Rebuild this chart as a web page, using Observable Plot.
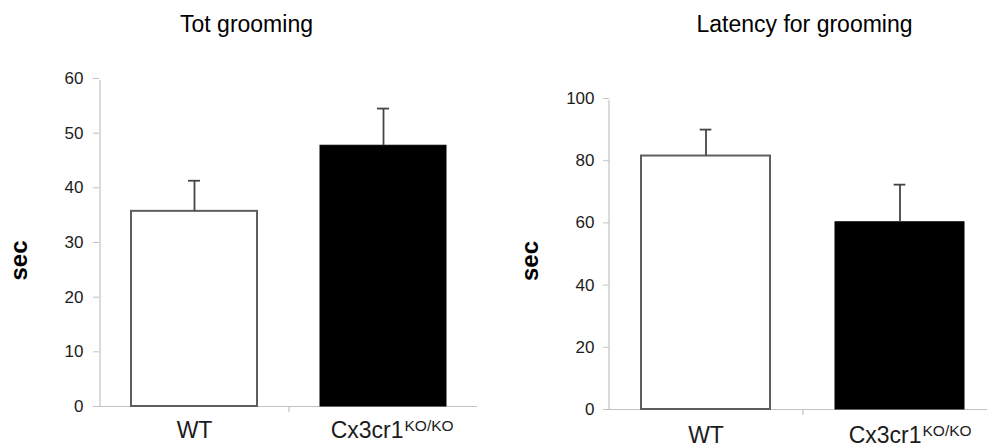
<!DOCTYPE html>
<html>
<head>
<meta charset="utf-8">
<script src="https://cdn.jsdelivr.net/npm/d3@7"></script>
<script src="https://cdn.jsdelivr.net/npm/@observablehq/plot@0.6"></script>
<style>
  html, body { margin: 0; padding: 0; background: #fff; }
  #row { display: flex; width: 987px; height: 446px; overflow: hidden; }
</style>
</head>
<body>
<div id="row"></div>
<script>
// Genotype groups and their label superscripts
const groups = ["WT", "Cx3cr1"];
const groupSup = ["", "KO/KO"];

// Total grooming time (sec): mean and SEM
const groomingMean = [35.7, 47.7];
const groomingSem = [5.6, 6.8];
const groomingTicks = [0, 10, 20, 30, 40, 50, 60];

// Latency to first grooming (sec): mean and SEM
const latencyMean = [81.5, 60.2];
const latencySem = [8.5, 12.1];
const latencyTicks = [0, 20, 40, 60, 80, 100];

const axisGray = "#c2c2c2";
const textDark = "#1c1c1c";
const font = "'Liberation Sans', Arial, Helvetica, sans-serif";

function panel(o) {
  const rows = groups.map((g, i) => ({group: g, sup: groupSup[i], mean: o.mean[i], top: o.mean[i] + o.sem[i]}));
  const yMax = o.ticks[o.ticks.length - 1];
  const step = (o.xRange[1] - o.xRange[0]) / groups.length;
  const bw = step * 2 / 3;
  const capInset = (bw - 12) / 2;
  const isWT = d => d.group === "WT";
  const isKO = d => d.group !== "WT";
  return Plot.plot({
    width: o.width,
    height: 446,
    marginLeft: o.marginLeft,
    marginRight: o.marginRight,
    marginTop: o.marginTop,
    marginBottom: o.marginBottom,
    style: {fontFamily: font, background: "#fff", color: textDark},
    x: {type: "band", domain: groups, range: o.xRange, paddingInner: 1 / 3, paddingOuter: 1 / 6, axis: null},
    y: {domain: [0, yMax], axis: null},
    marks: [
      // value axis line and category separator tick
      Plot.ruleX([groups[0]], {x: d => d, dx: -step / 2, y1: 0, y2: yMax, insetBottom: -2, stroke: axisGray, strokeWidth: 1.2}),
      Plot.ruleX([groups[0]], {x: d => d, dx: step / 2, y1: 0, y2: 0, insetBottom: -6, stroke: axisGray, strokeWidth: 1.2}),
      Plot.ruleY([0], {stroke: axisGray, strokeWidth: 1.2}),
      Plot.axisY({ticks: o.ticks, tickSize: o.tickSize, tickFormat: () => "", color: axisGray, label: null}),
      Plot.axisY({ticks: o.ticks, tickSize: 0, tickPadding: o.tickSize + o.tickPadding, color: textDark, fontSize: 17, label: null}),
      // bars
      Plot.barY(rows, {filter: isWT, x: "group", y: "mean", fill: "#fff", stroke: "#5e5e5e", strokeWidth: 2}),
      Plot.barY(rows, {filter: isKO, x: "group", y: "mean", fill: "#000", stroke: "#000", strokeWidth: 1}),
      // SEM error bars (upper only)
      Plot.ruleX(rows, {x: "group", y1: "mean", y2: "top", stroke: "#454545", strokeWidth: 1.8}),
      Plot.tickY(rows, {x: "group", y: "top", insetLeft: capInset, insetRight: capInset, stroke: "#454545", strokeWidth: 1.8}),
      // category labels
      Plot.text(rows, {filter: isWT, x: "group", text: "group", frameAnchor: "bottom", lineAnchor: "bottom", dy: o.labelDy, fontSize: 23, fill: textDark}),
      Plot.text(rows, {filter: isKO, x: "group", text: "group", frameAnchor: "bottom", lineAnchor: "bottom", textAnchor: "end", dx: o.koDx, dy: o.labelDy, fontSize: 23, fill: textDark}),
      Plot.text(rows, {filter: isKO, x: "group", text: "sup", frameAnchor: "bottom", lineAnchor: "bottom", textAnchor: "start", dx: o.koDx + 1, dy: o.labelDy - 7, fontSize: 15.5, fill: textDark}),
      // value axis title
      Plot.text(["sec"], {frameAnchor: "left", rotate: -90, textAnchor: "middle", lineAnchor: "middle", dx: o.secDx, dy: o.secDy, fontSize: 24, fontWeight: "bold", fill: "#000"}),
      // panel title
      Plot.text([o.title], {frameAnchor: "top-left", textAnchor: "middle", lineAnchor: "bottom", dx: o.titleDx, dy: o.titleDy, fontSize: 23, fill: "#000"})
    ]
  });
}

const row = document.getElementById("row");

row.append(panel({
  title: "Tot grooming",
  mean: groomingMean, sem: groomingSem, ticks: groomingTicks,
  width: 494, marginLeft: 99, marginRight: 17, marginTop: 78, marginBottom: 40,
  xRange: [99, 477], tickSize: 6, tickPadding: 10,
  labelDy: 31, koDx: 20, secDx: -80.5, secDy: 18, titleDx: 147, titleDy: -47
}));

row.append(panel({
  title: "Latency for grooming",
  mean: latencyMean, sem: latencySem, ticks: latencyTicks,
  width: 493, marginLeft: 115, marginRight: 0, marginTop: 98, marginBottom: 37,
  xRange: [115, 503], tickSize: 6, tickPadding: 9,
  labelDy: 33, koDx: 21.5, secDx: -79.5, secDy: 7, titleDx: 195, titleDy: -67
}));
</script>
</body>
</html>
